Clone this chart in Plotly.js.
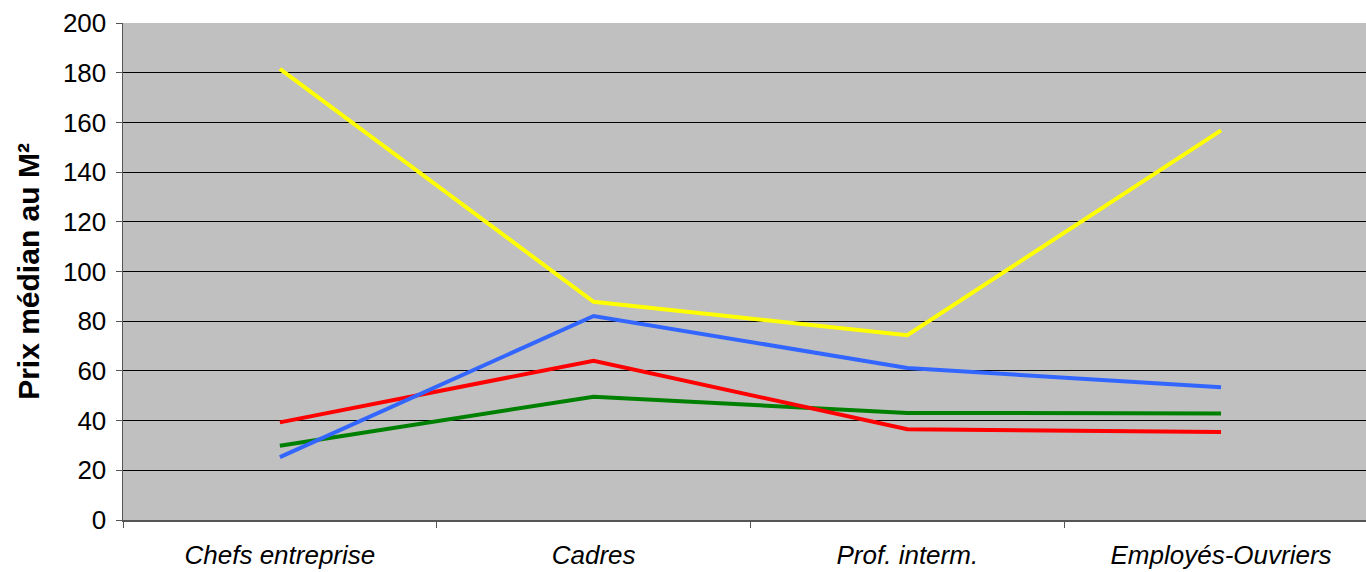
<!DOCTYPE html>
<html>
<head>
<meta charset="utf-8">
<script src="https://cdn.plot.ly/plotly-3.0.1.min.js"></script>
<style>html,body{margin:0;padding:0;background:#fff;}#chart{width:1366px;height:572px;}</style>
</head>
<body>
<div id="chart"></div>
<script>
const categories = ["Chefs entreprise", "Cadres", "Prof. interm.", "Employés-Ouvriers"];
const serieJaune = [181.5, 87.8, 74.4, 156.8];
const serieBleue = [25.3, 82.1, 61.2, 53.4];
const serieRouge = [39.3, 64.1, 36.5, 35.4];
const serieVerte = [29.9, 49.6, 43.1, 42.9];
const yTicks = [0, 20, 40, 60, 80, 100, 120, 140, 160, 180, 200];

function line(y, color, name) {
  return {x: categories, y: y, type: 'scatter', mode: 'lines', name: name,
          line: {color: color, width: 4}, hoverinfo: 'skip', showlegend: false};
}
const data = [
  line(serieVerte, '#008000', 'Série verte'),
  line(serieRouge, '#FF0000', 'Série rouge'),
  line(serieBleue, '#3366FF', 'Série bleue'),
  line(serieJaune, '#FFFF00', 'Série jaune')
];
const font = 'Liberation Sans, Arial, sans-serif';
const layout = {
  width: 1366, height: 572,
  margin: {l: 123, r: 0, t: 23, b: 52, pad: 0},
  paper_bgcolor: '#FFFFFF', plot_bgcolor: '#C0C0C0',
  showlegend: false,
  xaxis: {
    type: 'category', range: [-0.5, 3.462],
    tickson: 'boundaries', ticks: 'outside', ticklen: 6, tickcolor: '#555',
    showgrid: false, zeroline: false,
    showline: true, linecolor: '#555', linewidth: 1.5,
    tickfont: {family: font, size: 26, color: '#000', style: 'italic'},
    ticklabelstandoff: 11
  },
  yaxis: {
    range: [0, 200], tickvals: yTicks, ticktext: yTicks.map(String),
    ticks: 'outside', ticklen: 6, tickcolor: '#555',
    showgrid: true, gridcolor: '#000', gridwidth: 1,
    zeroline: false, showline: true, linecolor: '#555', linewidth: 1.5,
    tickfont: {family: font, size: 26, color: '#000'},
    ticklabelstandoff: 4,
    title: {text: 'Prix médian au M²', font: {family: font, size: 30, color: '#000', weight: 'bold'}, standoff: 14}
  }
};
Plotly.newPlot('chart', data, layout, {displayModeBar: false, staticPlot: true});
</script>
</body>
</html>
